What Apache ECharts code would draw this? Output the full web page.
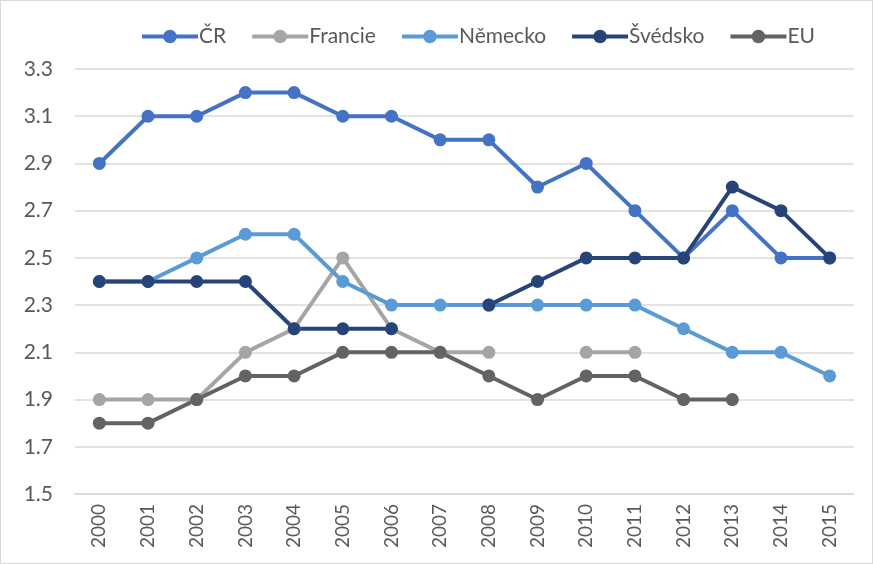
<!DOCTYPE html>
<html>
<head>
<meta charset="utf-8">
<script src="https://cdn.jsdelivr.net/npm/echarts@6/dist/echarts.min.js"></script>
<style>
  html, body { margin: 0; padding: 0; background: #fff; }
  #chart { width: 871px; height: 562px; border: 1px solid #d9d9d9; }
</style>
</head>
<body>
<div id="chart"></div>
<script>
  const years = ['2000', '2001', '2002', '2003', '2004', '2005', '2006', '2007',
    '2008', '2009', '2010', '2011', '2012', '2013', '2014', '2015']
  const cr = [2.9, 3.1, 3.1, 3.2, 3.2, 3.1, 3.1, 3.0, 3.0, 2.8, 2.9, 2.7, 2.5, 2.7, 2.5, 2.5]
  const francie = [1.9, 1.9, 1.9, 2.1, 2.2, 2.5, 2.2, 2.1, 2.1, null, 2.1, 2.1, null, null, null, null]
  const nemecko = [2.4, 2.4, 2.5, 2.6, 2.6, 2.4, 2.3, 2.3, 2.3, 2.3, 2.3, 2.3, 2.2, 2.1, 2.1, 2.0]
  const svedsko = [2.4, 2.4, 2.4, 2.4, 2.2, 2.2, 2.2, null, 2.3, 2.4, 2.5, 2.5, 2.5, 2.8, 2.7, 2.5]
  const eu = [1.8, 1.8, 1.9, 2.0, 2.0, 2.1, 2.1, 2.1, 2.0, 1.9, 2.0, 2.0, 1.9, 1.9, null, null]

  const names = ['ČR', 'Francie', 'Německo', 'Švédsko', 'EU']
  const colors = ['#4472C4', '#A5A5A5', '#5B9BD5', '#264478', '#636363']
  const values = [cr, francie, nemecko, svedsko, eu]

  const chart = echarts.init(document.getElementById('chart'))
  chart.setOption({
    animation: false,
    textStyle: { fontFamily: 'Lato' },
    color: colors,
    legend: {
      top: 20,
      left: 134,
      itemWidth: 56,
      itemHeight: 17,
      itemGap: 24,
      lineStyle: { width: 4 },
      textStyle: { color: '#595959', fontSize: 21, padding: [0, 0, 0, -4] },
      data: names
    },
    grid: { left: 74, right: 18, top: 68, bottom: 69 },
    xAxis: {
      type: 'category',
      data: years,
      boundaryGap: true,
      axisLine: { lineStyle: { color: '#d9d9d9', width: 1.5 } },
      axisTick: { show: false },
      axisLabel: { rotate: 90, color: '#595959', fontSize: 19, margin: 10 }
    },
    yAxis: {
      type: 'value',
      min: 1.5,
      max: 3.3,
      interval: 0.2,
      axisLine: { show: false },
      axisTick: { show: false },
      splitLine: { lineStyle: { color: '#d9d9d9', width: 1.5 } },
      axisLabel: {
        color: '#595959',
        fontSize: 21,
        margin: 22,
        formatter: v => v.toFixed(1)
      }
    },
    series: names.map((n, i) => ({
      name: n,
      type: 'line',
      data: values[i],
      symbol: 'circle',
      symbolSize: 13,
      connectNulls: false,
      lineStyle: { width: 4, color: colors[i] },
      itemStyle: { color: colors[i] }
    }))
  })
</script>
</body>
</html>
